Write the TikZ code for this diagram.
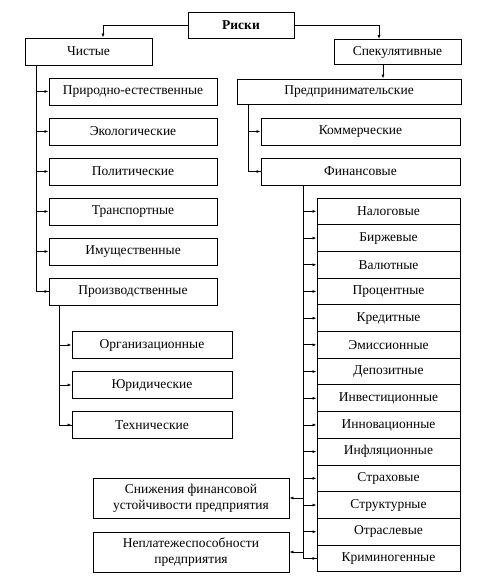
\documentclass[tikz,border=0pt]{standalone}
\usepackage{fontspec}
\setmainfont{Liberation Serif}
\usetikzlibrary{arrows.meta}
\tikzset{
  box/.style={draw, line width=0.9pt, inner sep=0pt, align=center, font=\fontsize{13.5}{16}\selectfont},
  arr/.style={-{Latex[length=4pt,width=3pt]}, line width=0.8pt},
  trunk/.style={line width=0.9pt}
}

\begin{document}
\begin{tikzpicture}[x=1pt,y=-1pt]
\useasboundingbox (0,0) rectangle (485,582);

% top level
\node[box, minimum width=106pt, minimum height=26pt, font=\fontsize{13.5}{16}\selectfont\bfseries] (risk) at (241,25) {Риски};
\node[box, minimum width=127pt, minimum height=27pt] (pure) at (88.5,51.5) {Чистые};
\node[box, minimum width=127pt, minimum height=25pt] (spec) at (397.5,52) {Спекулятивные};
\draw[arr] (risk.west) -| ([xshift=14.5pt]pure.north);
\draw[arr] (risk.east) -| ([xshift=-18.5pt]spec.north);

% pure risks
\foreach \n/\y/\t in {nat/91.5/Природно-естественные, eco/131.5/Экологические,
  pol/171.5/Политические, trans/211.5/Транспортные, prop/251.5/Имущественные,
  prod/291.5/Производственные}{
  \node[box, minimum width=168pt, minimum height=27pt] (\n) at (133,\y) {\t};
}
\coordinate (lt) at (36,65);
\draw[trunk] (lt) |- (prod.west);
\foreach \n in {nat,eco,pol,trans,prop,prod}{
  \draw[arr] (lt |- \n.west) -- (\n.west);
}

% production risks
\foreach \n/\y/\t in {org/345/Организационные, jur/385/Юридические, tech/425/Технические}{
  \node[box, minimum width=160pt, minimum height=27pt] (\n) at (152,\y) {\t};
}
\coordinate (pt) at (59,305);
\draw[trunk] (pt) |- (tech.west);
\foreach \n in {org,jur,tech}{
  \draw[arr] (pt |- \n.west) -- (\n.west);
}

% speculative risks
\node[box, minimum width=224pt, minimum height=25pt] (entr) at (349,91.5) {Предпринимательские};
\draw[arr] ([xshift=-14.5pt]spec.south) -- ([xshift=-14.5pt]spec.south |- entr.north);
\node[box, minimum width=199pt, minimum height=27pt] (comm) at (360.5,131.5) {Коммерческие};
\node[box, minimum width=199pt, minimum height=27pt] (fin) at (360.5,171.5) {Финансовые};
\coordinate (et) at (248,104);
\draw[trunk] (et) |- (fin.west);
\foreach \n in {comm,fin}{
  \draw[arr] (et |- \n.west) -- (\n.west);
}

% financial risks
\foreach \t [count=\i] in {Налоговые, Биржевые, Валютные, Процентные, Кредитные,
  Эмиссионные, Депозитные, Инвестиционные, Инновационные, Инфляционные,
  Страховые, Структурные, Отраслевые, Криминогенные}{
  \node[box, minimum width=143pt, minimum height=26.7pt] (f\i) at (388.5,{184.65+26.7*\i}) {\t};
}
\coordinate (ft) at (303,185);
\draw[trunk] (ft) |- (f14.west);
\foreach \i in {1,...,14}{
  \draw[arr] (ft |- f\i.west) -- (f\i.west);
}

% consequences
\node[box, minimum width=196pt, minimum height=40pt] (stab) at (191,498) {Снижения финансовой\\устойчивости предприятия};
\node[box, minimum width=196pt, minimum height=40pt] (insol) at (191,552) {Неплатежеспособности\\предприятия};
\draw[arr] (ft |- stab.east) -- (stab.east);
\draw[arr] (ft |- insol.east) -- (insol.east);
\end{tikzpicture}
\end{document}
